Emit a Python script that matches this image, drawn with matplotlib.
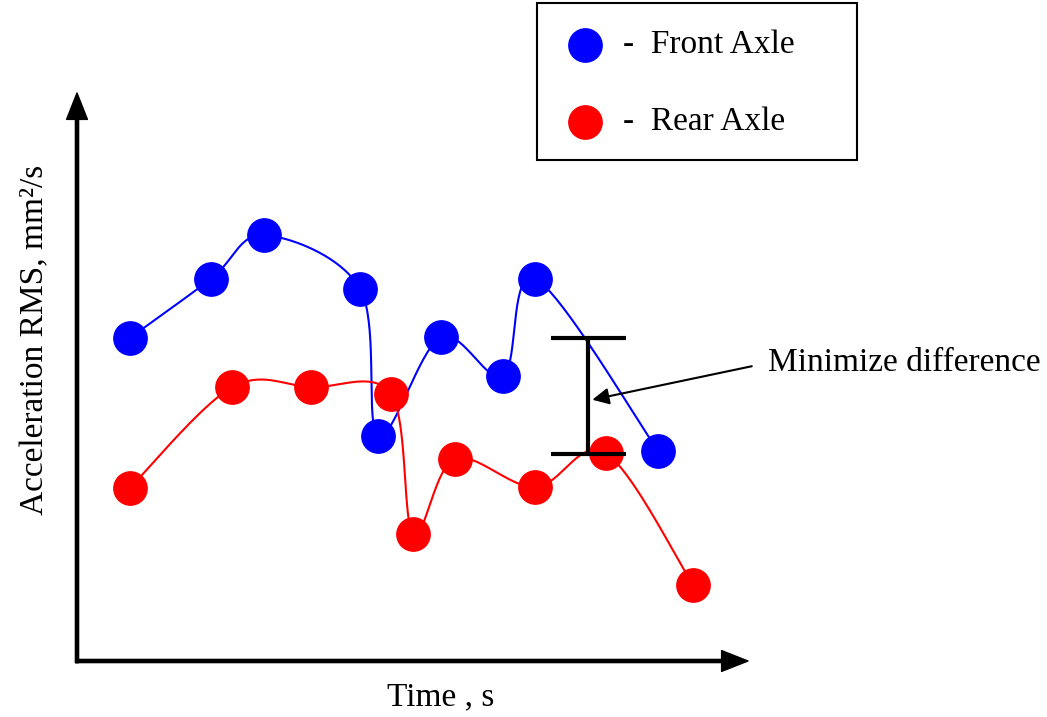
import numpy as np
import matplotlib
matplotlib.use("Agg")
import matplotlib.pyplot as plt
from matplotlib.patches import Rectangle

plt.rcParams['font.family'] = ['Liberation Serif', 'DejaVu Serif']

# schematic values (arbitrary units)
front_t = [0.79, 2.0, 2.79, 4.22, 4.49, 5.42, 6.35, 6.83, 8.66]
front_acc = [5.69, 6.73, 7.50, 6.55, 3.96, 5.70, 5.02, 6.73, 3.70]
rear_t = [0.79, 2.31, 3.49, 4.68, 5.01, 5.63, 6.83, 7.88, 9.18]
rear_acc = [3.05, 4.82, 4.82, 4.70, 2.24, 3.56, 3.06, 3.66, 1.34]

gap_t = 7.62
gap_low = 3.64
gap_high = 5.69


def smooth(ax, xs, ys, n=40):
    # catmull-rom style smoothing done in display space
    pts = ax.transData.transform(np.column_stack([xs, ys]))
    p = np.vstack([pts[0], pts, pts[-1]])
    out = []
    for i in range(1, len(p) - 2):
        p0, p1, p2, p3 = p[i - 1], p[i], p[i + 1], p[i + 2]
        c1 = p1 + (p2 - p0) / 6
        c2 = p2 - (p3 - p1) / 6
        s = np.linspace(0, 1, n)[:, None]
        seg = ((1 - s) ** 3) * p1 + 3 * ((1 - s) ** 2) * s * c1 + 3 * (1 - s) * s ** 2 * c2 + s ** 3 * p2
        out.append(seg)
    out = np.vstack(out)
    back = ax.transData.inverted().transform(out)
    return back[:, 0], back[:, 1]


fig = plt.figure(figsize=(10.47, 7.17), dpi=100)
ax = fig.add_axes([77 / 1047, 56 / 717, 671 / 1047, 568 / 717])
ax.set_xlim(0, 10)
ax.set_ylim(0, 10)
ax.axis('off')

for t, a, col in [(front_t, front_acc, 'blue'), (rear_t, rear_acc, 'red')]:
    sx, sy = smooth(ax, t, a)
    ax.plot(sx, sy, color=col, lw=1.5, zorder=2)
    ax.plot(t, a, 'o', color=col, ms=24, zorder=3, clip_on=False)

# axis arrows
axis_arrow = dict(width=2.3, headwidth=15, headlength=19, color='black', shrink=0)
ax.annotate('', xy=(1, 0), xytext=(-0.002, 0), xycoords='axes fraction', arrowprops=axis_arrow)
ax.annotate('', xy=(0, 1), xytext=(0, -0.003), xycoords='axes fraction', arrowprops=axis_arrow)

# difference bar
ax.errorbar([gap_t], [(gap_low + gap_high) / 2], yerr=[[(gap_high - gap_low) / 2]],
            fmt='none', ecolor='black', elinewidth=3, capsize=27, capthick=3, zorder=4)
ax.annotate('Minimize difference', xy=(gap_t + 0.06, 4.60), xytext=(10.3, 5.25),
            fontsize=24, ha='left', va='center', annotation_clip=False,
            arrowprops=dict(arrowstyle='-|>', lw=1.5, color='black', mutation_scale=25,
                            shrinkA=10, shrinkB=0, relpos=(0, 0.5)))

fig.text(441 / 1047, 1 - 697 / 717, 'Time , s', fontsize=24, ha='center', va='center')
fig.text(35 / 1047, 1 - 340 / 717, 'Acceleration RMS, mm²/s', fontsize=24, ha='center', va='center',
         rotation=90)

# legend box
fig.patches.append(Rectangle((537 / 1047, 1 - 160 / 717), 320 / 1047, 157 / 717, transform=fig.transFigure,
                             fill=False, edgecolor='black', lw=1.5))
fig.lines.append(plt.Line2D([585 / 1047], [1 - 45 / 717], marker='o', ms=24, color='blue',
                            transform=fig.transFigure))
fig.lines.append(plt.Line2D([585 / 1047], [1 - 122 / 717], marker='o', ms=24, color='red',
                            transform=fig.transFigure))
fig.text(623 / 1047, 1 - 45 / 717, '-  Front Axle', fontsize=24, ha='left', va='center')
fig.text(623 / 1047, 1 - 122 / 717, '-  Rear Axle', fontsize=24, ha='left', va='center')

fig.savefig('out.png', dpi=100)
